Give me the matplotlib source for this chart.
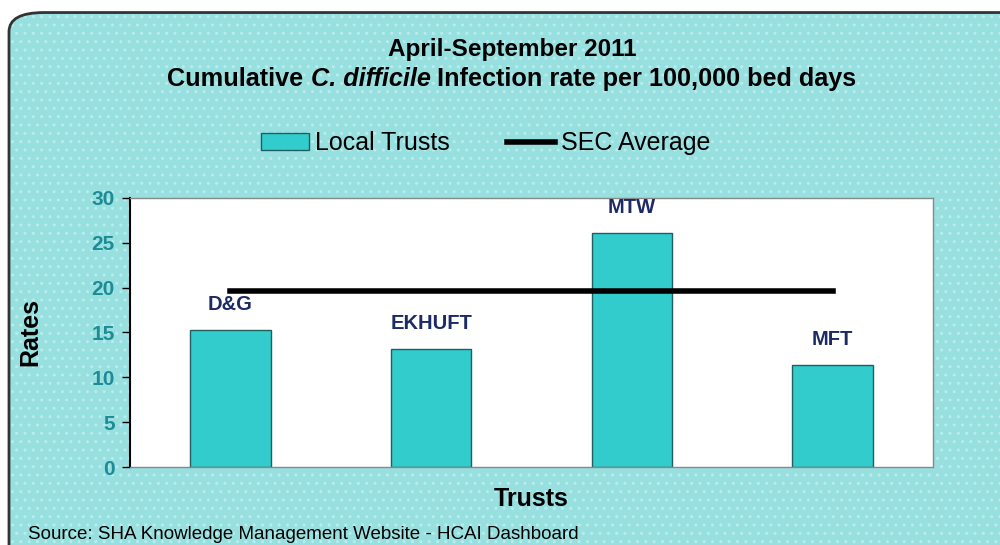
import numpy as np
import matplotlib.pyplot as plt
from matplotlib.patches import FancyBboxPatch

trusts = ['D&G', 'EKHUFT', 'MTW', 'MFT']
rates = [15.3, 13.2, 26.1, 11.4]
sec_average = 19.6
yticks = [0, 5, 10, 15, 20, 25, 30]

plt.rcParams['font.family'] = ['Liberation Sans', 'DejaVu Sans']

fig = plt.figure(figsize=(10, 5.45), dpi=100)

# rounded turquoise panel behind the chart
panel = FancyBboxPatch((0.009, -0.05), 1.05, 1.027, transform=fig.transFigure,
                       boxstyle='round,pad=0,rounding_size=0.035',
                       facecolor='#98e0e0', edgecolor='#b9eded', hatch='..',
                       lw=0, zorder=-3)
fig.patches.append(panel)
border = FancyBboxPatch((0.009, -0.05), 1.05, 1.027, transform=fig.transFigure,
                        boxstyle='round,pad=0,rounding_size=0.035',
                        facecolor='none', edgecolor='#333333', lw=2, zorder=-2)
fig.patches.append(border)

ax = fig.add_axes([0.130, 0.143, 0.803, 0.494])
x = np.arange(len(trusts))
bars = ax.bar(x, rates, width=0.4, color='#33cccc', edgecolor='#1f5f5f', lw=1,
              label='Local Trusts', zorder=2)
line, = ax.plot([x[0], x[-1]], [sec_average, sec_average], color='black', lw=4,
                label='SEC Average', zorder=3)

for xi, v, name in zip(x, rates, trusts):
    ax.annotate(name, (xi, v), xytext=(0, 18), textcoords='offset points',
                ha='center', va='center', fontsize=14.5, fontweight='bold',
                color='#1c2a66')

ax.set_xlim(-0.5, 3.5)
ax.set_ylim(0, 30)
ax.set_xticks([])
ax.set_yticks(yticks)
ax.tick_params(axis='y', direction='out', length=6, width=1, colors='black',
               labelcolor='#1e8c96', labelsize=15, pad=5)
for lbl in ax.get_yticklabels():
    lbl.set_fontweight('bold')
ax.spines['left'].set_color('black')
ax.spines['left'].set_linewidth(1.5)
for s in ['top', 'right', 'bottom']:
    ax.spines[s].set_color('#888888')
    ax.spines[s].set_linewidth(1)

ax.set_ylabel('Rates', fontsize=18, fontweight='bold', labelpad=35)
ax.set_xlabel('Trusts', fontsize=18, fontweight='bold', labelpad=14)

fig.text(0.512, 0.91, 'April-September 2011', ha='center', va='center',
         fontsize=17.5, fontweight='bold')

# second title line with the italic organism name, laid out piece by piece
parts = [('Cumulative ', 'normal'), ('C. difficile', 'italic'),
         (' Infection rate per 100,000 bed days', 'normal')]
pieces = []
for txt, style in parts:
    pieces.append(fig.text(0, 0.855, txt, ha='left', va='center', fontsize=18.2,
                           fontweight='bold', style=style))
fig.canvas.draw()
renderer = fig.canvas.get_renderer()
widths = [p.get_window_extent(renderer).width / fig.bbox.width for p in pieces]
xpos = 0.512 - sum(widths) / 2
for p, w in zip(pieces, widths):
    p.set_x(xpos)
    xpos += w

fig.legend([bars, line], ['Local Trusts', 'SEC Average'], loc='center',
           bbox_to_anchor=(0.486, 0.737), ncol=2, frameon=False,
           fontsize=18, handlelength=1.9, handleheight=0.7, columnspacing=2.3,
           handletextpad=0.25)

fig.text(0.028, 0.004, 'Source: SHA Knowledge Management Website - HCAI Dashboard',
         ha='left', va='bottom', fontsize=13.5)

fig.savefig('out.png', dpi=100)
